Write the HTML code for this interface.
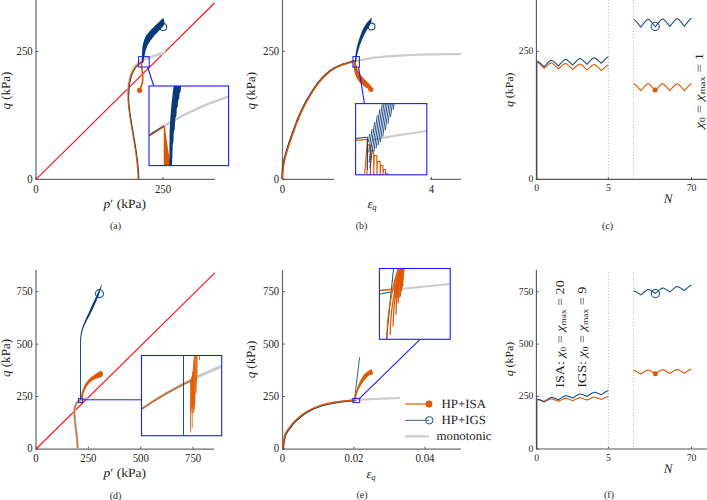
<!DOCTYPE html>
<html><head><meta charset="utf-8"><title>Figure</title>
<style>
html,body{margin:0;padding:0;background:#fff;}
svg{display:block;}
text{font-family:"Liberation Serif","DejaVu Serif",serif;fill:#222;text-rendering:geometricPrecision;}
</style></head>
<body>
<svg width="707" height="500" viewBox="0 0 707 500">
<defs>
<clipPath id="ca"><rect x="149" y="86" width="79.6" height="79.6"/></clipPath>
<clipPath id="cb"><rect x="355.6" y="103.6" width="71.2" height="71.2"/></clipPath>
<clipPath id="cd"><rect x="141.5" y="355.5" width="80.2" height="80.2"/></clipPath>
<clipPath id="ce"><rect x="379.4" y="268.5" width="70.8" height="70.8"/></clipPath>
</defs>
<rect width="707" height="500" fill="#fff"/>
<path d="M36 0V179.975" stroke="#6c6c6c" stroke-width="1.25" fill="none"/>
<path d="M36 179.35H215" stroke="#6c6c6c" stroke-width="1.25" fill="none"/>
<path d="M36 179.04999999999998v-2" stroke="#444444" stroke-width="0.9"/>
<text x="36" y="192.75" font-size="12" text-anchor="middle" textLength="5.37" lengthAdjust="spacingAndGlyphs">0</text>
<path d="M163 179.04999999999998v-2" stroke="#444444" stroke-width="0.9"/>
<text x="163" y="192.75" font-size="12" text-anchor="middle" textLength="16.11" lengthAdjust="spacingAndGlyphs">250</text>
<path d="M36.3 179.35h2" stroke="#444444" stroke-width="0.9"/>
<text x="32.7" y="182.75" font-size="12" text-anchor="end" textLength="5.37" lengthAdjust="spacingAndGlyphs">0</text>
<path d="M36.3 51.4h2" stroke="#444444" stroke-width="0.9"/>
<text x="32.7" y="54.8" font-size="12" text-anchor="end" textLength="16.11" lengthAdjust="spacingAndGlyphs">250</text>
<text x="9.7" y="90.6" font-size="12.5" text-anchor="middle" transform="rotate(-90 9.7 90.6)" textLength="38" lengthAdjust="spacingAndGlyphs"><tspan font-style="italic">q</tspan> (kPa)</text>
<text x="124.8" y="207.6" font-size="12.5" text-anchor="middle" textLength="42.4" lengthAdjust="spacingAndGlyphs"><tspan font-style="italic">p</tspan>′ (kPa)</text>
<text x="115.5" y="229" font-size="10" text-anchor="middle">(a)</text>
<path d="M36 179.3L214.5 3" stroke="#ff1414" stroke-width="1.1" fill="none"/>
<path d="M128.5 95C128 75 134 64 143 60C150 56.8 158 54.5 165.5 52.3" stroke="#d0d0d0" stroke-width="2.8" fill="none"/>
<path d="M137.8 179C137.5 150 128 120 127.6 98C127.4 78 133 66.5 141 62" stroke="#093a78" stroke-width="1.1" fill="none" transform="translate(1.0,0)"/>
<path d="M137.8 179C137.5 150 128 120 127.6 98C127.4 78 133 66.5 141 62" stroke="#de5700" stroke-width="1.1" fill="none" transform="translate(0.35,0)"/>
<path d="M141.3 62C141.4 69 143.2 75 142.7 80.6C142.3 84.6 141 87.4 139.6 89.4" stroke="#de5700" stroke-width="1.6" fill="none"/>
<circle cx="139.6" cy="90.3" r="2.6" fill="#de5700"/>
<circle cx="163.2" cy="27" r="3.5" fill="none" stroke="#1d4f8a" stroke-width="1.1"/>
<path d="M141.80 63.00L141.80 62.55L141.80 61.99L141.80 61.33L141.81 60.58L141.81 59.73L141.83 58.82L141.86 57.84L141.90 56.80L141.95 55.66L141.99 54.38L142.03 53.00L142.09 51.56L142.16 50.11L142.27 48.67L142.41 47.29L142.60 46.00L142.84 44.78L143.12 43.56L143.44 42.37L143.79 41.21L144.16 40.10L144.54 39.06L144.92 38.09L145.30 37.20L145.68 36.42L146.06 35.75L146.45 35.17L146.86 34.64L147.27 34.14L147.70 33.65L148.14 33.15L148.60 32.60L149.04 32.06L149.44 31.58L149.84 31.12L150.26 30.64L150.73 30.13L151.29 29.54L151.97 28.84L152.80 28.00L153.87 26.93L155.21 25.62L156.70 24.17L158.26 22.66L159.79 21.19L161.19 19.84L162.36 18.72L163.20 17.90L163.40 18.20L163.49 18.50L163.61 18.91L163.76 19.40L163.92 19.94L164.08 20.50L164.22 21.05L164.33 21.56L164.40 22.00L164.44 22.38L164.47 22.71L164.49 23.02L164.48 23.31L164.45 23.60L164.37 23.91L164.26 24.24L164.10 24.60L163.91 24.97L163.72 25.31L163.50 25.65L163.24 26.01L162.91 26.43L162.51 26.91L162.01 27.49L161.40 28.20L160.63 29.05L159.71 30.03L158.67 31.11L157.56 32.26L156.42 33.46L155.30 34.66L154.25 35.85L153.30 37.00L152.43 38.10L151.58 39.19L150.76 40.28L149.98 41.38L149.24 42.48L148.54 43.62L147.89 44.79L147.30 46.00L146.77 47.30L146.29 48.68L145.87 50.12L145.49 51.58L145.15 53.01L144.85 54.38L144.56 55.66L144.30 56.80L144.06 57.84L143.87 58.82L143.70 59.73L143.56 60.57L143.45 61.33L143.35 61.99L143.27 62.55L143.20 63.00Z" fill="#093a78"/>
<rect x="138.6" y="56.6" width="10.6" height="10.4" fill="none" stroke="#1c1cff" stroke-width="1"/>
<path d="M147.6 67L153.8 86" stroke="#1c1cff" stroke-width="1.1" fill="none"/>
<rect x="149" y="86" width="79.6" height="79.6" fill="#fff" stroke="none"/>
<g clip-path="url(#ca)">
<path d="M149 135.5C175 118 205 104 228.6 96.3" stroke="#cbcbcb" stroke-width="2.3" fill="none"/>
<path d="M149 135.7C154 132.3 159 129 164.2 126" stroke="#093a78" stroke-width="1.5" fill="none"/>
<path d="M149 136C154 132.6 159 129.3 164.2 126.4" stroke="#de5700" stroke-width="1.1" fill="none"/>
<path d="M163.7 126.2L165 126.6L166.4 138L168 149L170.8 166H163.7Z" fill="#de5700"/>
<path d="M169.4 166L169.5 136C169.9 120 171.6 100 173.8 85H181.2L180.6 92L179.6 93L179.2 99L178.2 100L177.7 107L176.8 108L176.4 116L175.4 118L174.6 130L173.8 132L173.4 142L172.8 144L172.4 154L172 166Z" fill="#093a78"/>
</g>
<rect x="149" y="86" width="79.6" height="79.6" fill="none" stroke="#1c1cff" stroke-width="1.1"/>
<path d="M282.5 0V179.975" stroke="#6c6c6c" stroke-width="1.25" fill="none"/>
<path d="M282.5 179.35H334M430.2 179.35H461" stroke="#6c6c6c" stroke-width="1.25" fill="none"/>
<path d="M282.5 179.04999999999998v-2" stroke="#444444" stroke-width="0.9"/>
<text x="282.5" y="192.75" font-size="12" text-anchor="middle" textLength="5.37" lengthAdjust="spacingAndGlyphs">0</text>
<path d="M431.5 179.04999999999998v-2" stroke="#444444" stroke-width="0.9"/>
<text x="431.5" y="192.75" font-size="12" text-anchor="middle" textLength="5.37" lengthAdjust="spacingAndGlyphs">4</text>
<path d="M282.8 179.35h2" stroke="#444444" stroke-width="0.9"/>
<text x="279.2" y="182.75" font-size="12" text-anchor="end" textLength="5.37" lengthAdjust="spacingAndGlyphs">0</text>
<path d="M282.8 51.4h2" stroke="#444444" stroke-width="0.9"/>
<text x="279.2" y="54.8" font-size="12" text-anchor="end" textLength="16.11" lengthAdjust="spacingAndGlyphs">250</text>
<text x="255.4" y="90.8" font-size="12.5" text-anchor="middle" transform="rotate(-90 255.4 90.8)" textLength="37.6" lengthAdjust="spacingAndGlyphs"><tspan font-style="italic">q</tspan> (kPa)</text>
<text x="372" y="207.5" font-size="12.5" text-anchor="middle"><tspan font-style="italic">ε</tspan><tspan font-style="italic" font-size="8.5" dy="2.5">q</tspan></text>
<text x="361.5" y="229" font-size="10" text-anchor="middle">(b)</text>
<path d="M352.00 61.60L352.64 61.49L353.51 61.35L354.54 61.17L355.67 60.98L356.87 60.78L358.06 60.58L359.19 60.38L360.20 60.20L361.11 60.03L361.96 59.87L362.78 59.71L363.58 59.54L364.39 59.38L365.21 59.22L366.08 59.06L367.00 58.90L367.92 58.74L368.81 58.58L369.69 58.42L370.62 58.26L371.62 58.10L372.74 57.94L374.02 57.77L375.50 57.60L377.15 57.42L378.93 57.24L380.84 57.05L382.89 56.86L385.06 56.66L387.37 56.47L389.82 56.28L392.40 56.10L395.18 55.91L398.17 55.72L401.33 55.53L404.61 55.34L407.96 55.15L411.32 54.98L414.65 54.83L417.90 54.70L421.14 54.59L424.46 54.50L427.80 54.43L431.13 54.38L434.40 54.33L437.57 54.28L440.58 54.24L443.40 54.20L446.12 54.16L448.81 54.12L451.42 54.09L453.89 54.07L456.17 54.05L458.18 54.03L459.88 54.01L461.20 54.00" stroke="#cbcbcb" stroke-width="2.2" fill="none"/>
<path d="M282.50 179.30L282.56 178.27L282.63 176.90L282.71 175.27L282.81 173.46L282.93 171.55L283.09 169.62L283.27 167.74L283.50 166.00L283.77 164.37L284.07 162.75L284.41 161.15L284.78 159.54L285.18 157.94L285.60 156.31L286.04 154.67L286.50 153.00L286.99 151.28L287.52 149.52L288.09 147.74L288.67 145.94L289.26 144.15L289.85 142.38L290.44 140.66L291.00 139.00L291.54 137.40L292.08 135.86L292.61 134.35L293.14 132.88L293.67 131.41L294.20 129.95L294.74 128.49L295.30 127.00L295.85 125.51L296.39 124.05L296.93 122.59L297.48 121.12L298.05 119.65L298.65 118.14L299.30 116.60L300.00 115.00L300.76 113.34L301.56 111.62L302.41 109.85L303.29 108.06L304.20 106.26L305.13 104.48L306.06 102.72L307.00 101.00L307.96 99.30L308.95 97.59L309.97 95.88L311.00 94.19L312.03 92.54L313.05 90.95L314.04 89.43L315.00 88.00L315.92 86.67L316.80 85.43L317.65 84.27L318.50 83.16L319.35 82.09L320.20 81.05L321.08 80.03L322.00 79.00L322.96 77.97L323.95 76.94L324.97 75.94L326.00 74.96L327.03 74.01L328.05 73.11L329.04 72.27L330.00 71.50L330.92 70.80L331.80 70.17L332.65 69.60L333.50 69.08L334.35 68.59L335.20 68.12L336.08 67.66L337.00 67.20L337.97 66.74L338.98 66.29L340.01 65.85L341.06 65.44L342.10 65.04L343.12 64.67L344.09 64.32L345.00 64.00L345.85 63.71L346.66 63.46L347.44 63.24L348.19 63.03L348.91 62.84L349.62 62.66L350.31 62.48L351.00 62.30L351.71 62.11L352.44 61.92L353.17 61.73L353.88 61.54L354.54 61.37L355.12 61.22L355.62 61.10L356.00 61.00" stroke="#093a78" stroke-width="1.6" fill="none" transform="translate(-0.5,-0.3)"/>
<path d="M282.50 179.30L282.56 178.27L282.63 176.90L282.71 175.27L282.81 173.46L282.93 171.55L283.09 169.62L283.27 167.74L283.50 166.00L283.77 164.37L284.07 162.75L284.41 161.15L284.78 159.54L285.18 157.94L285.60 156.31L286.04 154.67L286.50 153.00L286.99 151.28L287.52 149.52L288.09 147.74L288.67 145.94L289.26 144.15L289.85 142.38L290.44 140.66L291.00 139.00L291.54 137.40L292.08 135.86L292.61 134.35L293.14 132.88L293.67 131.41L294.20 129.95L294.74 128.49L295.30 127.00L295.85 125.51L296.39 124.05L296.93 122.59L297.48 121.12L298.05 119.65L298.65 118.14L299.30 116.60L300.00 115.00L300.76 113.34L301.56 111.62L302.41 109.85L303.29 108.06L304.20 106.26L305.13 104.48L306.06 102.72L307.00 101.00L307.96 99.30L308.95 97.59L309.97 95.88L311.00 94.19L312.03 92.54L313.05 90.95L314.04 89.43L315.00 88.00L315.92 86.67L316.80 85.43L317.65 84.27L318.50 83.16L319.35 82.09L320.20 81.05L321.08 80.03L322.00 79.00L322.96 77.97L323.95 76.94L324.97 75.94L326.00 74.96L327.03 74.01L328.05 73.11L329.04 72.27L330.00 71.50L330.92 70.80L331.80 70.17L332.65 69.60L333.50 69.08L334.35 68.59L335.20 68.12L336.08 67.66L337.00 67.20L337.97 66.74L338.98 66.29L340.01 65.85L341.06 65.44L342.10 65.04L343.12 64.67L344.09 64.32L345.00 64.00L345.85 63.71L346.66 63.46L347.44 63.24L348.19 63.03L348.91 62.84L349.62 62.66L350.31 62.48L351.00 62.30L351.71 62.11L352.44 61.92L353.17 61.73L353.88 61.54L354.54 61.37L355.12 61.22L355.62 61.10L356.00 61.00" stroke="#de5700" stroke-width="1.5" fill="none"/>
<path d="M353.90 61.56L353.89 61.98L353.86 62.53L353.82 63.20L353.79 63.95L353.77 64.76L353.76 65.61L353.77 66.45L353.82 67.27L353.89 68.05L353.97 68.84L354.07 69.65L354.19 70.48L354.34 71.31L354.51 72.16L354.72 73.01L354.97 73.85L355.25 74.68L355.57 75.52L355.91 76.36L356.29 77.19L356.69 78.00L357.11 78.80L357.56 79.56L358.03 80.31L358.55 81.03L359.10 81.71L359.66 82.34L360.22 82.92L360.77 83.46L361.30 83.96L361.80 84.41L362.29 84.85L362.81 85.29L363.34 85.72L363.87 86.11L364.38 86.48L364.87 86.81L365.35 87.13L365.80 87.42L366.22 87.71L366.66 88.01L367.13 88.31L367.59 88.60L368.04 88.89L368.46 89.15L368.84 89.39L369.15 89.59L369.40 89.74L371.80 87.06L371.62 86.84L371.39 86.54L371.12 86.19L370.81 85.80L370.47 85.38L370.12 84.94L369.75 84.51L369.38 84.09L368.99 83.67L368.59 83.25L368.18 82.84L367.77 82.42L367.36 82.01L366.95 81.60L366.54 81.18L366.11 80.75L365.63 80.28L365.12 79.81L364.62 79.35L364.13 78.90L363.66 78.46L363.21 78.01L362.78 77.56L362.37 77.09L361.95 76.57L361.51 75.99L361.06 75.38L360.63 74.75L360.20 74.10L359.78 73.45L359.39 72.79L359.03 72.15L358.69 71.52L358.37 70.86L358.06 70.19L357.77 69.50L357.50 68.80L357.24 68.10L357.00 67.41L356.78 66.73L356.58 66.05L356.40 65.32L356.24 64.55L356.10 63.80L355.97 63.07L355.87 62.42L355.77 61.86L355.70 61.44Z" fill="#de5700"/>
<circle cx="370.9" cy="89.5" r="2.5" fill="#de5700"/>
<circle cx="371.6" cy="26.5" r="3.4" fill="none" stroke="#1d4f8a" stroke-width="1.1"/>
<path d="M356.10 62.07L356.19 61.45L356.31 60.63L356.45 59.66L356.61 58.58L356.78 57.45L356.97 56.30L357.18 55.19L357.39 54.16L357.61 53.18L357.85 52.20L358.10 51.22L358.36 50.24L358.64 49.26L358.93 48.29L359.24 47.31L359.55 46.33L359.88 45.35L360.23 44.37L360.59 43.38L360.96 42.40L361.35 41.42L361.74 40.46L362.14 39.50L362.54 38.56L362.96 37.63L363.40 36.70L363.85 35.77L364.31 34.85L364.77 33.95L365.22 33.08L365.67 32.25L366.09 31.47L366.51 30.73L366.93 30.04L367.35 29.36L367.77 28.71L368.18 28.08L368.58 27.46L368.96 26.84L369.30 26.26L369.59 25.73L369.86 25.24L370.11 24.78L370.35 24.32L370.58 23.84L370.80 23.35L371.00 22.83L371.18 22.27L371.33 21.67L371.44 21.04L371.51 20.39L371.55 19.76L371.58 19.16L371.60 18.63L371.62 18.19L371.64 17.86L371.36 17.74L371.14 18.00L370.85 18.34L370.51 18.75L370.13 19.19L369.73 19.65L369.34 20.11L368.96 20.54L368.62 20.93L368.30 21.27L367.99 21.59L367.68 21.93L367.35 22.28L367.01 22.68L366.65 23.11L366.28 23.60L365.90 24.14L365.53 24.71L365.15 25.30L364.76 25.93L364.35 26.61L363.94 27.34L363.53 28.10L363.11 28.90L362.71 29.73L362.31 30.60L361.92 31.51L361.52 32.45L361.13 33.43L360.75 34.42L360.37 35.43L360.01 36.43L359.66 37.44L359.32 38.44L358.99 39.46L358.67 40.49L358.36 41.52L358.06 42.56L357.78 43.60L357.51 44.64L357.25 45.67L357.00 46.69L356.76 47.71L356.54 48.74L356.33 49.76L356.13 50.78L355.94 51.80L355.77 52.82L355.61 53.84L355.47 54.92L355.35 56.08L355.25 57.26L355.15 58.42L355.08 59.51L355.01 60.49L354.95 61.31L354.90 61.93Z" fill="#093a78"/>
<rect x="352.9" y="56.6" width="6.5" height="10.5" fill="none" stroke="#1c1cff" stroke-width="1"/>
<path d="M358.6 67L364.4 103.5" stroke="#1c1cff" stroke-width="1.1" fill="none"/>
<rect x="355.6" y="103.6" width="71.2" height="71.2" fill="#fff"/>
<g clip-path="url(#cb)">
<path d="M372 140C390 136 410 133.5 427 131" stroke="#cbcbcb" stroke-width="2" fill="none"/>
<path d="M355.6 140.4L367.4 139.4L364.6 175M367.00 175L367.70 144.7L370.30 145.1L370.50 175M370.30 175L371.00 150.5L373.60 150.9L373.80 175M373.60 175L374.30 155.4L376.80 155.8L377.00 175M376.80 175L377.50 161.1L380.10 161.5L380.30 175M380.10 175L380.80 165.2L382.90 165.6L383.10 175M382.90 175L383.60 169.3L385.40 169.70000000000002L385.60 175M385.40 175L386.10 173.4L387.50 173.8L387.70 175" stroke="#de5700" stroke-width="1.1" fill="none" stroke-linejoin="miter"/>
<path d="M355.6 138.4L367.6 137.2" stroke="#093a78" stroke-width="1" fill="none"/>
<path d="M367.6 137.2L367.3 170M368.48 142.25L369.64 134.00M368.76 152.25L372.02 129.00M369.01 162.50L374.64 122.25M369.92 168.00L377.31 115.25M373.94 151.25L379.82 109.25M376.04 148.25L382.24 104.00M378.14 145.25L384.76 98.00M380.24 142.25L386.44 98.00M382.69 136.75L388.12 98.00M385.28 130.25L389.80 98.00M387.88 123.75L391.48 98.00M390.50 117.00L393.16 98.00M393.19 109.75L394.84 98.00M395.85 102.75L396.52 98.00" stroke="#093a78" stroke-width="0.88" fill="none"/>
</g>
<rect x="355.6" y="103.6" width="71.2" height="71.2" fill="none" stroke="#1c1cff" stroke-width="1.1"/>
<path d="M536.4 0V179.9" stroke="#555" stroke-width="1.1" fill="none"/>
<path d="M536.4 179.35H707" stroke="#555" stroke-width="1.1" fill="none"/>
<path d="M536.6 179.04999999999998v-2" stroke="#444444" stroke-width="0.9"/>
<text x="536.6" y="191.35" font-size="10.3" text-anchor="middle" textLength="4.83" lengthAdjust="spacingAndGlyphs">0</text>
<path d="M608.4 179.04999999999998v-2" stroke="#444444" stroke-width="0.9"/>
<text x="608.4" y="191.35" font-size="10.3" text-anchor="middle" textLength="4.83" lengthAdjust="spacingAndGlyphs">5</text>
<path d="M691.5 179.04999999999998v-2" stroke="#444444" stroke-width="0.9"/>
<text x="691.5" y="191.35" font-size="10.3" text-anchor="middle" textLength="9.66" lengthAdjust="spacingAndGlyphs">70</text>
<path d="M536.6999999999999 179.35h2" stroke="#444444" stroke-width="0.9"/>
<text x="533.3" y="182.15" font-size="10.3" text-anchor="end" textLength="4.83" lengthAdjust="spacingAndGlyphs">0</text>
<path d="M536.6999999999999 51.4h2" stroke="#444444" stroke-width="0.9"/>
<text x="533.3" y="54.199999999999996" font-size="10.3" text-anchor="end" textLength="14.49" lengthAdjust="spacingAndGlyphs">250</text>
<path d="M608.4 0V179.35" stroke="#999" stroke-width="0.8" stroke-dasharray="0.9 2.2" fill="none"/>
<path d="M633.5 0V179.35" stroke="#999" stroke-width="0.8" stroke-dasharray="0.9 2.2" fill="none"/>
<text x="512.8" y="89.8" font-size="11" text-anchor="middle" transform="rotate(-90 512.8 89.8)" textLength="34.5" lengthAdjust="spacingAndGlyphs"><tspan font-style="italic">q</tspan> (kPa)</text>
<text x="668" y="203.2" font-size="13" text-anchor="middle"><tspan font-style="italic">N</tspan></text>
<text x="607.5" y="229" font-size="10" text-anchor="middle">(c)</text>
<path d="M536.9 179V62" stroke="#de5700" stroke-width="1" fill="none"/>
<path d="M536.6 179V61.4" stroke="#1d4f8a" stroke-width="1" fill="none"/>
<path d="M537.00 62.40 L537.60 62.53 L538.19 62.84 L538.78 63.26 L539.38 63.74 L539.98 64.27 L540.57 64.81 L541.16 65.37 L541.76 65.94 L542.36 66.52 L542.95 67.10 L543.54 67.69 L544.14 68.28 L544.74 67.74 L545.33 67.20 L545.92 66.66 L546.52 66.13 L547.12 65.61 L547.71 65.09 L548.30 64.59 L548.90 64.12 L549.50 63.68 L550.09 63.30 L550.68 63.04 L551.28 62.96 L551.88 63.09 L552.47 63.40 L553.06 63.82 L553.66 64.30 L554.25 64.83 L554.85 65.37 L555.45 65.93 L556.04 66.50 L556.63 67.08 L557.23 67.66 L557.83 68.25 L558.42 68.84 L559.01 68.30 L559.61 67.76 L560.21 67.22 L560.80 66.69 L561.39 66.17 L561.99 65.65 L562.59 65.15 L563.18 64.68 L563.77 64.24 L564.37 63.86 L564.97 63.60 L565.56 63.52 L566.15 63.65 L566.75 63.96 L567.35 64.38 L567.94 64.86 L568.53 65.39 L569.13 65.93 L569.73 66.49 L570.32 67.06 L570.91 67.64 L571.51 68.22 L572.11 68.81 L572.70 69.40 L573.29 68.86 L573.89 68.32 L574.49 67.78 L575.08 67.25 L575.67 66.73 L576.27 66.21 L576.87 65.71 L577.46 65.24 L578.05 64.80 L578.65 64.42 L579.25 64.16 L579.84 64.08 L580.43 64.21 L581.03 64.52 L581.62 64.94 L582.22 65.42 L582.81 65.95 L583.41 66.49 L584.00 67.05 L584.60 67.62 L585.19 68.20 L585.79 68.78 L586.38 69.37 L586.98 69.96 L587.58 69.42 L588.17 68.88 L588.76 68.34 L589.36 67.81 L589.95 67.29 L590.55 66.77 L591.14 66.27 L591.74 65.80 L592.34 65.36 L592.93 64.98 L593.52 64.72 L594.12 64.64 L594.72 64.77 L595.31 65.08 L595.90 65.50 L596.50 65.98 L597.10 66.51 L597.69 67.05 L598.28 67.61 L598.88 68.18 L599.48 68.76 L600.07 69.34 L600.66 69.93 L601.26 70.52 L601.86 69.98 L602.45 69.44 L603.04 68.90 L603.64 68.37 L604.24 67.85 L604.83 67.33 L605.42 66.83 L606.02 66.36 L606.62 65.92 L607.21 65.54 L607.80 65.28 L608.40 65.20" stroke="#de5700" stroke-width="1.1" fill="none"/>
<path d="M537.00 61.20 L537.60 61.28 L538.19 61.55 L538.78 61.94 L539.38 62.40 L539.98 62.90 L540.57 63.42 L541.16 63.96 L541.76 64.51 L542.36 65.07 L542.95 65.63 L543.54 66.20 L544.14 66.77 L544.74 66.13 L545.33 65.49 L545.92 64.85 L546.52 64.22 L547.12 63.60 L547.71 62.99 L548.30 62.39 L548.90 61.82 L549.50 61.29 L550.09 60.83 L550.68 60.49 L551.28 60.34 L551.88 60.42 L552.47 60.69 L553.06 61.08 L553.66 61.54 L554.25 62.04 L554.85 62.56 L555.45 63.10 L556.04 63.65 L556.63 64.21 L557.23 64.77 L557.83 65.34 L558.42 65.91 L559.01 65.27 L559.61 64.63 L560.21 63.99 L560.80 63.36 L561.39 62.74 L561.99 62.13 L562.59 61.53 L563.18 60.96 L563.77 60.43 L564.37 59.97 L564.97 59.63 L565.56 59.48 L566.15 59.56 L566.75 59.83 L567.35 60.22 L567.94 60.68 L568.53 61.18 L569.13 61.70 L569.73 62.24 L570.32 62.79 L570.91 63.35 L571.51 63.91 L572.11 64.48 L572.70 65.05 L573.29 64.41 L573.89 63.77 L574.49 63.13 L575.08 62.50 L575.67 61.88 L576.27 61.27 L576.87 60.67 L577.46 60.10 L578.05 59.57 L578.65 59.11 L579.25 58.77 L579.84 58.62 L580.43 58.70 L581.03 58.97 L581.62 59.36 L582.22 59.82 L582.81 60.32 L583.41 60.84 L584.00 61.38 L584.60 61.93 L585.19 62.49 L585.79 63.05 L586.38 63.62 L586.98 64.19 L587.58 63.55 L588.17 62.91 L588.76 62.27 L589.36 61.64 L589.95 61.02 L590.55 60.41 L591.14 59.81 L591.74 59.24 L592.34 58.71 L592.93 58.25 L593.52 57.91 L594.12 57.76 L594.72 57.84 L595.31 58.11 L595.90 58.50 L596.50 58.96 L597.10 59.46 L597.69 59.98 L598.28 60.52 L598.88 61.07 L599.48 61.63 L600.07 62.19 L600.66 62.76 L601.26 63.33 L601.86 62.69 L602.45 62.05 L603.04 61.41 L603.64 60.78 L604.24 60.16 L604.83 59.55 L605.42 58.95 L606.02 58.38 L606.62 57.85 L607.21 57.39 L607.80 57.05 L608.40 56.90" stroke="#1d4f8a" stroke-width="1.1" fill="none"/>
<path d="M633.60 19.60 L634.20 19.73 L634.81 20.10 L635.41 20.63 L636.02 21.25 L636.62 21.91 L637.23 22.61 L637.83 23.33 L638.43 24.06 L639.04 24.80 L639.64 25.54 L640.25 26.29 L640.85 27.05 L641.45 26.27 L642.06 25.49 L642.66 24.72 L643.27 23.96 L643.87 23.20 L644.48 22.46 L645.08 21.74 L645.68 21.05 L646.29 20.41 L646.89 19.85 L647.50 19.46 L648.10 19.30 L648.70 19.43 L649.31 19.80 L649.91 20.33 L650.52 20.95 L651.12 21.61 L651.73 22.31 L652.33 23.03 L652.93 23.76 L653.54 24.50 L654.14 25.24 L654.75 25.99 L655.35 26.75 L655.95 25.97 L656.56 25.19 L657.16 24.42 L657.77 23.66 L658.37 22.90 L658.98 22.16 L659.58 21.44 L660.18 20.75 L660.79 20.11 L661.39 19.55 L662.00 19.16 L662.60 19.00 L663.20 19.13 L663.81 19.50 L664.41 20.03 L665.02 20.65 L665.62 21.31 L666.23 22.01 L666.83 22.73 L667.43 23.46 L668.04 24.20 L668.64 24.94 L669.25 25.69 L669.85 26.45 L670.45 25.67 L671.06 24.89 L671.66 24.12 L672.27 23.36 L672.87 22.60 L673.48 21.86 L674.08 21.14 L674.68 20.45 L675.29 19.81 L675.89 19.25 L676.50 18.86 L677.10 18.70 L677.70 18.83 L678.31 19.20 L678.91 19.73 L679.52 20.35 L680.12 21.01 L680.73 21.71 L681.33 22.43 L681.93 23.16 L682.54 23.90 L683.14 24.64 L683.75 25.39 L684.35 26.15 L684.95 25.37 L685.56 24.59 L686.16 23.82 L686.77 23.06 L687.37 22.30 L687.98 21.56 L688.58 20.84 L689.18 20.15 L689.79 19.51 L690.39 18.95 L691.00 18.56 L691.60 18.40" stroke="#1d4f8a" stroke-width="1.1" fill="none"/>
<path d="M633.60 83.80 L634.20 83.93 L634.81 84.27 L635.41 84.76 L636.02 85.32 L636.62 85.92 L637.23 86.56 L637.83 87.21 L638.43 87.88 L639.04 88.55 L639.64 89.23 L640.25 89.91 L640.85 90.60 L641.45 89.91 L642.06 89.23 L642.66 88.55 L643.27 87.88 L643.87 87.21 L644.48 86.56 L645.08 85.92 L645.68 85.32 L646.29 84.76 L646.89 84.27 L647.50 83.93 L648.10 83.80 L648.70 83.93 L649.31 84.27 L649.91 84.76 L650.52 85.32 L651.12 85.92 L651.73 86.56 L652.33 87.21 L652.93 87.88 L653.54 88.55 L654.14 89.23 L654.75 89.91 L655.35 90.60 L655.95 89.91 L656.56 89.23 L657.16 88.55 L657.77 87.88 L658.37 87.21 L658.98 86.56 L659.58 85.92 L660.18 85.32 L660.79 84.76 L661.39 84.27 L662.00 83.93 L662.60 83.80 L663.20 83.93 L663.81 84.27 L664.41 84.76 L665.02 85.32 L665.62 85.92 L666.23 86.56 L666.83 87.21 L667.43 87.88 L668.04 88.55 L668.64 89.23 L669.25 89.91 L669.85 90.60 L670.45 89.91 L671.06 89.23 L671.66 88.55 L672.27 87.88 L672.87 87.21 L673.48 86.56 L674.08 85.92 L674.68 85.32 L675.29 84.76 L675.89 84.27 L676.50 83.93 L677.10 83.80 L677.70 83.93 L678.31 84.27 L678.91 84.76 L679.52 85.32 L680.12 85.92 L680.73 86.56 L681.33 87.21 L681.93 87.88 L682.54 88.55 L683.14 89.23 L683.75 89.91 L684.35 90.60 L684.95 89.91 L685.56 89.23 L686.16 88.55 L686.77 87.88 L687.37 87.21 L687.98 86.56 L688.58 85.92 L689.18 85.32 L689.79 84.76 L690.39 84.27 L691.00 83.93 L691.60 83.80" stroke="#de5700" stroke-width="1.1" fill="none"/>
<circle cx="655.2" cy="26.4" r="4.1" fill="none" stroke="#1d4f8a" stroke-width="1.05"/>
<circle cx="655" cy="90" r="2.5" fill="#de5700"/>
<text x="703.2" y="90.8" font-size="11.5" text-anchor="middle" transform="rotate(-90 703.2 90.8)" textLength="76" lengthAdjust="spacingAndGlyphs"><tspan font-style="italic">χ</tspan><tspan font-size="8" dy="2">0</tspan><tspan dy="-2"> = </tspan><tspan font-style="italic">χ</tspan><tspan font-size="8" dy="2">max</tspan><tspan dy="-2"> = 1</tspan></text>
<path d="M36 270V449.625" stroke="#6c6c6c" stroke-width="1.25" fill="none"/>
<path d="M36 449H214" stroke="#6c6c6c" stroke-width="1.25" fill="none"/>
<path d="M36 448.7v-2" stroke="#444444" stroke-width="0.9"/>
<text x="36" y="462.4" font-size="12" text-anchor="middle" textLength="5.37" lengthAdjust="spacingAndGlyphs">0</text>
<path d="M88.4 448.7v-2" stroke="#444444" stroke-width="0.9"/>
<text x="88.4" y="462.4" font-size="12" text-anchor="middle" textLength="16.11" lengthAdjust="spacingAndGlyphs">250</text>
<path d="M140.8 448.7v-2" stroke="#444444" stroke-width="0.9"/>
<text x="140.8" y="462.4" font-size="12" text-anchor="middle" textLength="16.11" lengthAdjust="spacingAndGlyphs">500</text>
<path d="M193.1 448.7v-2" stroke="#444444" stroke-width="0.9"/>
<text x="193.1" y="462.4" font-size="12" text-anchor="middle" textLength="16.11" lengthAdjust="spacingAndGlyphs">750</text>
<path d="M36.3 449h2" stroke="#444444" stroke-width="0.9"/>
<text x="32.7" y="452.4" font-size="12" text-anchor="end" textLength="5.37" lengthAdjust="spacingAndGlyphs">0</text>
<path d="M36.3 396.5h2" stroke="#444444" stroke-width="0.9"/>
<text x="32.7" y="399.9" font-size="12" text-anchor="end" textLength="16.11" lengthAdjust="spacingAndGlyphs">250</text>
<path d="M36.3 344.1h2" stroke="#444444" stroke-width="0.9"/>
<text x="32.7" y="347.5" font-size="12" text-anchor="end" textLength="16.11" lengthAdjust="spacingAndGlyphs">500</text>
<path d="M36.3 291.7h2" stroke="#444444" stroke-width="0.9"/>
<text x="32.7" y="295.09999999999997" font-size="12" text-anchor="end" textLength="16.11" lengthAdjust="spacingAndGlyphs">750</text>
<text x="9.7" y="358" font-size="12.5" text-anchor="middle" transform="rotate(-90 9.7 358)" textLength="38" lengthAdjust="spacingAndGlyphs"><tspan font-style="italic">q</tspan> (kPa)</text>
<text x="124.8" y="477.1" font-size="12.5" text-anchor="middle" textLength="42.4" lengthAdjust="spacingAndGlyphs"><tspan font-style="italic">p</tspan>′ (kPa)</text>
<text x="115.5" y="499" font-size="10" text-anchor="middle">(d)</text>
<path d="M36 449L214.8 272.8" stroke="#ff1414" stroke-width="1.1" fill="none"/>
<path d="M77.6 448.8C77.6 436 74.3 422 74.4 412C74.5 404 77 401 81 399.7C84 398.9 86 398.4 87.6 397.8" stroke="#bdbdbd" stroke-width="2.5" fill="none"/>
<path d="M77.6 448.8C77.6 436 74.3 422 74.4 412C74.5 404 77 401 80.5 400" stroke="#de5700" stroke-width="1.3" fill="none" opacity="0.7"/>
<path d="M80.5 400V350" stroke="#093a78" stroke-width="0.9" fill="none"/>
<path d="M80.95 352.00L80.95 351.46L80.94 350.76L80.93 349.92L80.93 348.99L80.92 347.99L80.93 346.97L80.93 345.97L80.95 345.01L80.97 344.07L80.98 343.12L81.00 342.15L81.02 341.17L81.05 340.19L81.11 339.21L81.19 338.23L81.30 337.26L81.43 336.28L81.58 335.29L81.76 334.31L81.95 333.32L82.17 332.33L82.41 331.34L82.68 330.35L82.97 329.37L83.31 328.40L83.67 327.42L84.07 326.44L84.49 325.46L84.93 324.48L85.39 323.50L85.86 322.52L86.33 321.53L86.81 320.56L87.31 319.60L87.82 318.64L88.35 317.67L88.89 316.69L89.43 315.69L89.97 314.67L90.50 313.63L91.02 312.57L91.54 311.49L92.06 310.39L92.58 309.29L93.09 308.18L93.60 307.07L94.10 305.96L94.60 304.86L95.10 303.77L95.59 302.70L96.08 301.63L96.57 300.55L97.06 299.46L97.54 298.33L98.01 297.17L98.48 295.96L98.95 294.64L99.45 293.16L99.94 291.62L100.43 290.07L100.88 288.59L101.28 287.26L101.62 286.14L101.88 285.31L101.32 285.09L100.96 285.89L100.48 286.96L99.91 288.23L99.27 289.63L98.61 291.10L97.94 292.58L97.30 293.98L96.72 295.24L96.19 296.38L95.66 297.49L95.14 298.58L94.63 299.65L94.12 300.71L93.61 301.78L93.10 302.85L92.60 303.94L92.10 305.05L91.60 306.17L91.11 307.29L90.62 308.41L90.14 309.52L89.66 310.62L89.18 311.71L88.70 312.77L88.22 313.80L87.73 314.82L87.24 315.83L86.75 316.83L86.26 317.83L85.78 318.84L85.32 319.85L84.87 320.87L84.44 321.88L84.02 322.90L83.61 323.92L83.21 324.94L82.83 325.96L82.46 326.98L82.13 328.00L81.83 329.03L81.55 330.05L81.31 331.07L81.09 332.09L80.89 333.11L80.71 334.12L80.56 335.13L80.42 336.14L80.30 337.14L80.21 338.15L80.14 339.15L80.10 340.16L80.08 341.15L80.07 342.14L80.07 343.11L80.06 344.06L80.05 344.99L80.04 345.96L80.03 346.97L80.03 347.99L80.03 348.99L80.04 349.93L80.04 350.76L80.05 351.47L80.05 352.00Z" fill="#093a78"/>
<circle cx="99.5" cy="293.6" r="4" fill="none" stroke="#1d4f8a" stroke-width="1.1"/>
<path d="M80.6 399C81.4 391 84 384.5 88.6 379.5C92.6 375.4 96.4 373.6 99.6 371.4C101 370.6 102.4 371.4 102.8 373C103.3 375 102.4 376.8 100.6 377.2C96 378.4 92 380 88.8 383.6C85.4 387.6 83.4 392.4 82.4 399Z" fill="#de5700"/>
<rect x="78.6" y="398.4" width="4" height="4.2" fill="none" stroke="#1c1cff" stroke-width="1"/>
<path d="M82.6 399.8H141.5" stroke="#1c1cff" stroke-width="1" fill="none"/>
<rect x="141.5" y="355.5" width="80.2" height="80.2" fill="#fff"/>
<g clip-path="url(#cd)">
<path d="M141.5 408.8C165 393 195 377 221.7 366.2" stroke="#cbcbcb" stroke-width="2.9" fill="none"/>
<path d="M141.5 408.9C158 397.5 175 388 193 379.5" stroke="#093a78" stroke-width="1.2" fill="none" opacity="0.35"/>
<path d="M141.5 409.1C158 397.7 175 388.2 193 379.7" stroke="#de5700" stroke-width="1.1" fill="none"/>
<path d="M183.5 355.5V435.7" stroke="#093a78" stroke-width="0.9" fill="none"/>
<path d="M190.3 380.5L192.4 374L194 355.5H197.6V374L196.7 385L196.5 392.5L195.5 394L195.3 404L194.5 410L193.6 411L193.2 404L192.6 414L191.8 408L191.2 416L190.4 408Z" fill="#de5700" opacity="0.86"/>
<path d="M199.5 355.5V360.4M190.7 380L190.5 432.5M192.4 372L192.2 428M193.9 360L193.7 413" stroke="#de5700" stroke-width="0.8" fill="none"/>
</g>
<rect x="141.5" y="355.5" width="80.2" height="80.2" fill="none" stroke="#1c1cff" stroke-width="1.1"/>
<path d="M282.5 270V449.625" stroke="#6c6c6c" stroke-width="1.25" fill="none"/>
<path d="M282.5 449H461" stroke="#6c6c6c" stroke-width="1.25" fill="none"/>
<path d="M282.5 448.7v-2" stroke="#444444" stroke-width="0.9"/>
<text x="282.5" y="462.4" font-size="12" text-anchor="middle" textLength="5.37" lengthAdjust="spacingAndGlyphs">0</text>
<path d="M354 448.7v-2" stroke="#444444" stroke-width="0.9"/>
<text x="354" y="462.4" font-size="12" text-anchor="middle" textLength="19.12" lengthAdjust="spacingAndGlyphs">0.02</text>
<path d="M425 448.7v-2" stroke="#444444" stroke-width="0.9"/>
<text x="425" y="462.4" font-size="12" text-anchor="middle" textLength="19.12" lengthAdjust="spacingAndGlyphs">0.04</text>
<path d="M282.8 449h2" stroke="#444444" stroke-width="0.9"/>
<text x="279.2" y="452.4" font-size="12" text-anchor="end" textLength="5.37" lengthAdjust="spacingAndGlyphs">0</text>
<path d="M282.8 396.5h2" stroke="#444444" stroke-width="0.9"/>
<text x="279.2" y="399.9" font-size="12" text-anchor="end" textLength="16.11" lengthAdjust="spacingAndGlyphs">250</text>
<path d="M282.8 344.1h2" stroke="#444444" stroke-width="0.9"/>
<text x="279.2" y="347.5" font-size="12" text-anchor="end" textLength="16.11" lengthAdjust="spacingAndGlyphs">500</text>
<path d="M282.8 291.7h2" stroke="#444444" stroke-width="0.9"/>
<text x="279.2" y="295.09999999999997" font-size="12" text-anchor="end" textLength="16.11" lengthAdjust="spacingAndGlyphs">750</text>
<text x="255.4" y="359.5" font-size="12.5" text-anchor="middle" transform="rotate(-90 255.4 359.5)" textLength="37.6" lengthAdjust="spacingAndGlyphs"><tspan font-style="italic">q</tspan> (kPa)</text>
<text x="371" y="477.5" font-size="12.5" text-anchor="middle"><tspan font-style="italic">ε</tspan><tspan font-style="italic" font-size="8.5" dy="2.5">q</tspan></text>
<text x="362" y="498.4" font-size="10" text-anchor="middle">(e)</text>
<path d="M350 400.2C365 399.2 385 398.6 400 398" stroke="#cbcbcb" stroke-width="2.2" fill="none"/>
<path d="M282.60 449.00L282.65 448.60L282.71 448.07L282.79 447.43L282.87 446.72L282.96 445.98L283.04 445.26L283.13 444.59L283.20 444.00L283.26 443.50L283.32 443.06L283.37 442.66L283.42 442.27L283.47 441.88L283.54 441.47L283.61 441.01L283.70 440.50L283.80 439.91L283.92 439.26L284.04 438.57L284.17 437.86L284.31 437.15L284.46 436.45L284.62 435.80L284.80 435.20L284.99 434.66L285.18 434.16L285.39 433.69L285.61 433.24L285.84 432.80L286.08 432.37L286.33 431.94L286.60 431.50L286.87 431.07L287.14 430.67L287.42 430.29L287.71 429.90L288.03 429.49L288.38 429.05L288.76 428.56L289.20 428.00L289.67 427.37L290.17 426.68L290.70 425.94L291.26 425.17L291.87 424.37L292.52 423.55L293.23 422.72L294.00 421.90L294.85 421.05L295.78 420.17L296.77 419.25L297.80 418.33L298.86 417.42L299.93 416.53L300.98 415.69L302.00 414.90L303.00 414.17L304.00 413.47L305.00 412.81L306.00 412.18L307.00 411.58L308.00 411.00L309.00 410.44L310.00 409.90L311.00 409.38L312.00 408.89L313.00 408.43L314.00 407.99L315.00 407.57L316.00 407.16L317.00 406.77L318.00 406.40L319.00 406.04L320.00 405.70L321.00 405.38L322.00 405.08L323.00 404.79L324.00 404.52L325.00 404.25L326.00 404.00L327.00 403.76L328.00 403.53L329.00 403.32L330.00 403.12L331.00 402.94L332.00 402.75L333.00 402.58L334.00 402.40L335.00 402.23L336.00 402.06L337.00 401.90L338.00 401.75L339.00 401.60L340.00 401.46L341.00 401.33L342.00 401.20L343.02 401.08L344.07 400.96L345.13 400.85L346.19 400.74L347.22 400.65L348.21 400.56L349.14 400.47L350.00 400.40L350.80 400.34L351.58 400.28L352.31 400.24L353.00 400.20L353.62 400.17L354.17 400.14L354.63 400.12L355.00 400.10" stroke="#093a78" stroke-width="1.3" fill="none" transform="translate(0.6,0.6)"/>
<path d="M282.60 449.00L282.65 448.60L282.71 448.07L282.79 447.43L282.87 446.72L282.96 445.98L283.04 445.26L283.13 444.59L283.20 444.00L283.26 443.50L283.32 443.06L283.37 442.66L283.42 442.27L283.47 441.88L283.54 441.47L283.61 441.01L283.70 440.50L283.80 439.91L283.92 439.26L284.04 438.57L284.17 437.86L284.31 437.15L284.46 436.45L284.62 435.80L284.80 435.20L284.99 434.66L285.18 434.16L285.39 433.69L285.61 433.24L285.84 432.80L286.08 432.37L286.33 431.94L286.60 431.50L286.87 431.07L287.14 430.67L287.42 430.29L287.71 429.90L288.03 429.49L288.38 429.05L288.76 428.56L289.20 428.00L289.67 427.37L290.17 426.68L290.70 425.94L291.26 425.17L291.87 424.37L292.52 423.55L293.23 422.72L294.00 421.90L294.85 421.05L295.78 420.17L296.77 419.25L297.80 418.33L298.86 417.42L299.93 416.53L300.98 415.69L302.00 414.90L303.00 414.17L304.00 413.47L305.00 412.81L306.00 412.18L307.00 411.58L308.00 411.00L309.00 410.44L310.00 409.90L311.00 409.38L312.00 408.89L313.00 408.43L314.00 407.99L315.00 407.57L316.00 407.16L317.00 406.77L318.00 406.40L319.00 406.04L320.00 405.70L321.00 405.38L322.00 405.08L323.00 404.79L324.00 404.52L325.00 404.25L326.00 404.00L327.00 403.76L328.00 403.53L329.00 403.32L330.00 403.12L331.00 402.94L332.00 402.75L333.00 402.58L334.00 402.40L335.00 402.23L336.00 402.06L337.00 401.90L338.00 401.75L339.00 401.60L340.00 401.46L341.00 401.33L342.00 401.20L343.02 401.08L344.07 400.96L345.13 400.85L346.19 400.74L347.22 400.65L348.21 400.56L349.14 400.47L350.00 400.40L350.80 400.34L351.58 400.28L352.31 400.24L353.00 400.20L353.62 400.17L354.17 400.14L354.63 400.12L355.00 400.10" stroke="#de5700" stroke-width="1.5" fill="none"/>
<path d="M354.6 399L359.6 357.2" stroke="#093a78" stroke-width="0.8" fill="none"/>
<path d="M355.59 399.52L355.70 399.06L355.84 398.45L356.01 397.73L356.20 396.93L356.40 396.09L356.62 395.25L356.84 394.45L357.07 393.72L357.30 393.04L357.52 392.38L357.76 391.73L358.01 391.08L358.27 390.43L358.56 389.78L358.87 389.10L359.22 388.40L359.60 387.67L360.01 386.90L360.44 386.13L360.90 385.34L361.37 384.56L361.84 383.80L362.32 383.06L362.79 382.36L363.27 381.68L363.77 381.00L364.29 380.33L364.80 379.68L365.32 379.06L365.82 378.47L366.30 377.92L366.75 377.43L367.16 377.01L367.57 376.63L367.97 376.28L368.37 375.95L368.75 375.64L369.13 375.34L369.49 375.05L369.82 374.79L370.07 374.57L370.29 374.38L370.50 374.21L370.69 374.04L370.88 373.89L371.07 373.75L371.26 373.61L371.42 373.49L369.78 370.51L369.65 370.55L369.48 370.60L369.23 370.68L368.92 370.78L368.57 370.92L368.19 371.11L367.78 371.34L367.38 371.61L367.01 371.89L366.63 372.19L366.21 372.54L365.76 372.93L365.29 373.36L364.81 373.85L364.33 374.39L363.85 374.97L363.39 375.59L362.92 376.25L362.45 376.95L361.98 377.69L361.52 378.46L361.07 379.24L360.63 380.04L360.21 380.84L359.81 381.65L359.42 382.50L359.04 383.37L358.68 384.25L358.33 385.12L358.00 385.98L357.68 386.81L357.38 387.60L357.10 388.36L356.84 389.08L356.59 389.79L356.35 390.48L356.13 391.17L355.92 391.86L355.72 392.56L355.53 393.28L355.35 394.07L355.17 394.92L355.00 395.79L354.85 396.65L354.71 397.47L354.59 398.21L354.49 398.82L354.41 399.28Z" fill="#de5700"/>
<circle cx="370.9" cy="373" r="2.1" fill="#de5700"/>
<path d="M368.6 371.4L371.6 368.8L372.6 372.4Z" fill="#de5700"/>
<rect x="352.9" y="398.4" width="6.8" height="4.2" fill="none" stroke="#1c1cff" stroke-width="1"/>
<path d="M359.6 398.4L419.8 339.6" stroke="#1c1cff" stroke-width="1.1" fill="none"/>
<rect x="379.4" y="268.5" width="70.8" height="70.8" fill="#fff"/>
<g clip-path="url(#ce)">
<path d="M395 289.4L450.2 284" stroke="#cbcbcb" stroke-width="2" fill="none"/>
<path d="M379.4 294.2L391.2 291.8L393.5 268.4M391.2 291.8L386.4 339.4" stroke="#093a78" stroke-width="0.9" fill="none"/>
<path d="M379.4 290.5L392 289.3" stroke="#de5700" stroke-width="1.6" fill="none"/>
<path d="M392.6 287L395 278L398.2 268.5H404.8L403.6 279L402.6 286.5L401.5 291L400.4 296L398.6 300L397 296L395.4 300L394.2 294Z" fill="#de5700" opacity="0.75"/>
<path d="M386.90 339.60L387.05 333.13L387.38 326.67L387.88 320.20L388.56 313.73L389.42 307.27L390.45 300.80L391.66 294.33L393.04 287.87L394.60 281.40L396.33 274.93L398.24 268.47L400.32 262.00M390.20 335.00L390.34 328.92L390.63 322.83L391.08 316.75L391.69 310.67L392.45 304.58L393.36 298.50L394.43 292.42L395.66 286.33L397.04 280.25L398.58 274.17L400.27 268.08L402.12 262.00M393.10 326.40L393.21 321.03L393.45 315.67L393.81 310.30L394.28 304.93L394.88 299.57L395.60 294.20L396.44 288.83L397.40 283.47L398.48 278.10L399.68 272.73L401.01 267.37L402.45 262.00M396.00 314.80L396.08 310.40L396.25 306.00L396.50 301.60L396.83 297.20L397.24 292.80L397.73 288.40L398.30 284.00L398.95 279.60L399.69 275.20L400.51 270.80L401.40 266.40L402.38 262.00M398.20 303.30L398.26 299.86L398.37 296.42L398.53 292.98L398.74 289.53L398.99 286.09L399.30 282.65L399.66 279.21L400.07 275.77L400.52 272.32L401.03 268.88L401.59 265.44L402.19 262.00M400.20 296.80L400.25 293.90L400.33 291.00L400.45 288.10L400.60 285.20L400.79 282.30L401.01 279.40L401.27 276.50L401.56 273.60L401.89 270.70L402.26 267.80L402.66 264.90L403.09 262.00M401.50 291.00L401.54 288.58L401.60 286.17L401.68 283.75L401.79 281.33L401.93 278.92L402.09 276.50L402.27 274.08L402.48 271.67L402.71 269.25L402.97 266.83L403.25 264.42L403.56 262.00M402.60 286.50L402.63 284.46L402.68 282.42L402.74 280.38L402.82 278.33L402.92 276.29L403.04 274.25L403.17 272.21L403.32 270.17L403.49 268.12L403.68 266.08L403.88 264.04L404.11 262.00" stroke="#de5700" stroke-width="1.25" fill="none" stroke-linecap="butt"/>
</g>
<rect x="379.4" y="268.5" width="70.8" height="70.8" fill="none" stroke="#1c1cff" stroke-width="1.1"/>
<path d="M405.3 404H429" stroke="#de5700" stroke-width="1.2"/>
<circle cx="429" cy="404" r="3.4" fill="#de5700"/>
<path d="M405.3 420.3H429.3" stroke="#1d4f8a" stroke-width="0.9"/>
<circle cx="429.3" cy="420.3" r="3.7" fill="none" stroke="#1d4f8a" stroke-width="1"/>
<path d="M405.3 436.4H429" stroke="#cbcbcb" stroke-width="2.2"/>
<text x="441.5" y="407.8" font-size="12.5" text-anchor="start" textLength="44.5" lengthAdjust="spacingAndGlyphs">HP+ISA</text>
<text x="441.5" y="424" font-size="12.5" text-anchor="start" textLength="44.5" lengthAdjust="spacingAndGlyphs">HP+IGS</text>
<text x="436.4" y="440.2" font-size="12.5" text-anchor="start" textLength="55.2" lengthAdjust="spacingAndGlyphs">monotonic</text>
<path d="M536.4 270V449.55" stroke="#555" stroke-width="1.1" fill="none"/>
<path d="M536.4 449H707" stroke="#555" stroke-width="1.1" fill="none"/>
<path d="M536.6 448.7v-2" stroke="#444444" stroke-width="0.9"/>
<text x="536.6" y="461.0" font-size="10.3" text-anchor="middle" textLength="4.83" lengthAdjust="spacingAndGlyphs">0</text>
<path d="M608.4 448.7v-2" stroke="#444444" stroke-width="0.9"/>
<text x="608.4" y="461.0" font-size="10.3" text-anchor="middle" textLength="4.83" lengthAdjust="spacingAndGlyphs">5</text>
<path d="M691.5 448.7v-2" stroke="#444444" stroke-width="0.9"/>
<text x="691.5" y="461.0" font-size="10.3" text-anchor="middle" textLength="9.66" lengthAdjust="spacingAndGlyphs">70</text>
<path d="M536.6999999999999 449h2" stroke="#444444" stroke-width="0.9"/>
<text x="533.3" y="451.8" font-size="10.3" text-anchor="end" textLength="4.83" lengthAdjust="spacingAndGlyphs">0</text>
<path d="M536.6999999999999 396.5h2" stroke="#444444" stroke-width="0.9"/>
<text x="533.3" y="399.3" font-size="10.3" text-anchor="end" textLength="14.49" lengthAdjust="spacingAndGlyphs">250</text>
<path d="M536.6999999999999 344.1h2" stroke="#444444" stroke-width="0.9"/>
<text x="533.3" y="346.90000000000003" font-size="10.3" text-anchor="end" textLength="14.49" lengthAdjust="spacingAndGlyphs">500</text>
<path d="M536.6999999999999 291.7h2" stroke="#444444" stroke-width="0.9"/>
<text x="533.3" y="294.5" font-size="10.3" text-anchor="end" textLength="14.49" lengthAdjust="spacingAndGlyphs">750</text>
<path d="M608.4 272.5V449" stroke="#999" stroke-width="0.8" stroke-dasharray="0.9 2.2" fill="none"/>
<path d="M633.5 272.5V449" stroke="#999" stroke-width="0.8" stroke-dasharray="0.9 2.2" fill="none"/>
<text x="512.8" y="359" font-size="11" text-anchor="middle" transform="rotate(-90 512.8 359)" textLength="34.5" lengthAdjust="spacingAndGlyphs"><tspan font-style="italic">q</tspan> (kPa)</text>
<text x="668" y="472.6" font-size="13" text-anchor="middle"><tspan font-style="italic">N</tspan></text>
<text x="609" y="498.3" font-size="10" text-anchor="middle">(f)</text>
<path d="M536.9 448.8V399.6" stroke="#de5700" stroke-width="1" fill="none"/>
<path d="M536.6 448.8V399.4" stroke="#1d4f8a" stroke-width="1" fill="none"/>
<path d="M537.00 399.60 L537.60 399.62 L538.19 399.73 L538.78 399.89 L539.38 400.08 L539.98 400.29 L540.57 400.51 L541.16 400.73 L541.76 400.96 L542.36 401.19 L542.95 401.43 L543.54 401.66 L544.14 401.90 L544.74 401.61 L545.33 401.33 L545.92 401.04 L546.52 400.76 L547.12 400.48 L547.71 400.21 L548.30 399.94 L548.90 399.68 L549.50 399.44 L550.09 399.23 L550.68 399.07 L551.28 399.00 L551.88 399.02 L552.47 399.13 L553.06 399.29 L553.66 399.48 L554.25 399.69 L554.85 399.91 L555.45 400.13 L556.04 400.36 L556.63 400.59 L557.23 400.83 L557.83 401.06 L558.42 401.30 L559.01 401.01 L559.61 400.73 L560.21 400.44 L560.80 400.16 L561.39 399.88 L561.99 399.61 L562.59 399.34 L563.18 399.08 L563.77 398.84 L564.37 398.63 L564.97 398.47 L565.56 398.40 L566.15 398.42 L566.75 398.53 L567.35 398.69 L567.94 398.88 L568.53 399.09 L569.13 399.31 L569.73 399.53 L570.32 399.76 L570.91 399.99 L571.51 400.23 L572.11 400.46 L572.70 400.70 L573.29 400.41 L573.89 400.13 L574.49 399.84 L575.08 399.56 L575.67 399.28 L576.27 399.01 L576.87 398.74 L577.46 398.48 L578.05 398.24 L578.65 398.03 L579.25 397.87 L579.84 397.80 L580.43 397.82 L581.03 397.93 L581.62 398.09 L582.22 398.28 L582.81 398.49 L583.41 398.71 L584.00 398.93 L584.60 399.16 L585.19 399.39 L585.79 399.63 L586.38 399.86 L586.98 400.10 L587.58 399.81 L588.17 399.53 L588.76 399.24 L589.36 398.96 L589.95 398.68 L590.55 398.41 L591.14 398.14 L591.74 397.88 L592.34 397.64 L592.93 397.43 L593.52 397.27 L594.12 397.20 L594.72 397.22 L595.31 397.33 L595.90 397.49 L596.50 397.68 L597.10 397.89 L597.69 398.11 L598.28 398.33 L598.88 398.56 L599.48 398.79 L600.07 399.03 L600.66 399.26 L601.26 399.50 L601.86 399.21 L602.45 398.93 L603.04 398.64 L603.64 398.36 L604.24 398.08 L604.83 397.81 L605.42 397.54 L606.02 397.28 L606.62 397.04 L607.21 396.83 L607.80 396.67 L608.40 396.60" stroke="#de5700" stroke-width="1.1" fill="none"/>
<path d="M537.00 399.20 L537.60 399.19 L538.19 399.28 L538.78 399.43 L539.38 399.63 L539.98 399.84 L540.57 400.07 L541.16 400.30 L541.76 400.55 L542.36 400.79 L542.95 401.04 L543.54 401.29 L544.14 401.54 L544.74 401.15 L545.33 400.75 L545.92 400.36 L546.52 399.97 L547.12 399.59 L547.71 399.21 L548.30 398.84 L548.90 398.48 L549.50 398.14 L550.09 397.85 L550.68 397.61 L551.28 397.48 L551.88 397.47 L552.47 397.56 L553.06 397.71 L553.66 397.91 L554.25 398.12 L554.85 398.35 L555.45 398.58 L556.04 398.83 L556.63 399.07 L557.23 399.32 L557.83 399.57 L558.42 399.82 L559.01 399.43 L559.61 399.03 L560.21 398.64 L560.80 398.25 L561.39 397.87 L561.99 397.49 L562.59 397.12 L563.18 396.76 L563.77 396.42 L564.37 396.13 L564.97 395.89 L565.56 395.76 L566.15 395.75 L566.75 395.84 L567.35 395.99 L567.94 396.19 L568.53 396.40 L569.13 396.63 L569.73 396.86 L570.32 397.11 L570.91 397.35 L571.51 397.60 L572.11 397.85 L572.70 398.10 L573.29 397.71 L573.89 397.31 L574.49 396.92 L575.08 396.53 L575.67 396.15 L576.27 395.77 L576.87 395.40 L577.46 395.04 L578.05 394.70 L578.65 394.41 L579.25 394.17 L579.84 394.04 L580.43 394.03 L581.03 394.12 L581.62 394.27 L582.22 394.47 L582.81 394.68 L583.41 394.91 L584.00 395.14 L584.60 395.39 L585.19 395.63 L585.79 395.88 L586.38 396.13 L586.98 396.38 L587.58 395.99 L588.17 395.59 L588.76 395.20 L589.36 394.81 L589.95 394.43 L590.55 394.05 L591.14 393.68 L591.74 393.32 L592.34 392.98 L592.93 392.69 L593.52 392.45 L594.12 392.32 L594.72 392.31 L595.31 392.40 L595.90 392.55 L596.50 392.75 L597.10 392.96 L597.69 393.19 L598.28 393.42 L598.88 393.67 L599.48 393.91 L600.07 394.16 L600.66 394.41 L601.26 394.66 L601.86 394.27 L602.45 393.87 L603.04 393.48 L603.64 393.09 L604.24 392.71 L604.83 392.33 L605.42 391.96 L606.02 391.60 L606.62 391.26 L607.21 390.97 L607.80 390.73 L608.40 390.60" stroke="#1d4f8a" stroke-width="1.1" fill="none"/>
<path d="M633.60 291.00 L634.20 291.03 L634.81 291.20 L635.41 291.47 L636.02 291.78 L636.62 292.14 L637.23 292.50 L637.83 292.89 L638.43 293.27 L639.04 293.67 L639.64 294.07 L640.25 294.47 L640.85 294.88 L641.45 294.35 L642.06 293.83 L642.66 293.31 L643.27 292.79 L643.87 292.28 L644.48 291.78 L645.08 291.29 L645.68 290.82 L646.29 290.38 L646.89 289.99 L647.50 289.70 L648.10 289.55 L648.70 289.58 L649.31 289.75 L649.91 290.02 L650.52 290.33 L651.12 290.69 L651.73 291.05 L652.33 291.44 L652.93 291.82 L653.54 292.22 L654.14 292.62 L654.75 293.02 L655.35 293.43 L655.95 292.90 L656.56 292.38 L657.16 291.86 L657.77 291.34 L658.37 290.83 L658.98 290.33 L659.58 289.84 L660.18 289.37 L660.79 288.93 L661.39 288.54 L662.00 288.25 L662.60 288.10 L663.20 288.13 L663.81 288.30 L664.41 288.57 L665.02 288.88 L665.62 289.24 L666.23 289.60 L666.83 289.99 L667.43 290.37 L668.04 290.77 L668.64 291.17 L669.25 291.57 L669.85 291.98 L670.45 291.45 L671.06 290.93 L671.66 290.41 L672.27 289.89 L672.87 289.38 L673.48 288.88 L674.08 288.39 L674.68 287.92 L675.29 287.48 L675.89 287.09 L676.50 286.80 L677.10 286.65 L677.70 286.68 L678.31 286.85 L678.91 287.12 L679.52 287.43 L680.12 287.79 L680.73 288.15 L681.33 288.54 L681.93 288.92 L682.54 289.32 L683.14 289.72 L683.75 290.12 L684.35 290.53 L684.95 290.00 L685.56 289.48 L686.16 288.96 L686.77 288.44 L687.37 287.93 L687.98 287.43 L688.58 286.94 L689.18 286.47 L689.79 286.03 L690.39 285.64 L691.00 285.35 L691.60 285.20" stroke="#1d4f8a" stroke-width="1.1" fill="none"/>
<path d="M633.60 370.40 L634.20 370.46 L634.81 370.64 L635.41 370.90 L636.02 371.20 L636.62 371.52 L637.23 371.87 L637.83 372.22 L638.43 372.58 L639.04 372.94 L639.64 373.31 L640.25 373.68 L640.85 374.05 L641.45 373.65 L642.06 373.26 L642.66 372.87 L643.27 372.48 L643.87 372.09 L644.48 371.72 L645.08 371.35 L645.68 371.00 L646.29 370.67 L646.89 370.39 L647.50 370.18 L648.10 370.10 L648.70 370.16 L649.31 370.34 L649.91 370.60 L650.52 370.90 L651.12 371.22 L651.73 371.57 L652.33 371.92 L652.93 372.28 L653.54 372.64 L654.14 373.01 L654.75 373.38 L655.35 373.75 L655.95 373.35 L656.56 372.96 L657.16 372.57 L657.77 372.18 L658.37 371.79 L658.98 371.42 L659.58 371.05 L660.18 370.70 L660.79 370.37 L661.39 370.09 L662.00 369.88 L662.60 369.80 L663.20 369.86 L663.81 370.04 L664.41 370.30 L665.02 370.60 L665.62 370.92 L666.23 371.27 L666.83 371.62 L667.43 371.98 L668.04 372.34 L668.64 372.71 L669.25 373.08 L669.85 373.45 L670.45 373.05 L671.06 372.66 L671.66 372.27 L672.27 371.88 L672.87 371.49 L673.48 371.12 L674.08 370.75 L674.68 370.40 L675.29 370.07 L675.89 369.79 L676.50 369.58 L677.10 369.50 L677.70 369.56 L678.31 369.74 L678.91 370.00 L679.52 370.30 L680.12 370.62 L680.73 370.97 L681.33 371.32 L681.93 371.68 L682.54 372.04 L683.14 372.41 L683.75 372.78 L684.35 373.15 L684.95 372.75 L685.56 372.36 L686.16 371.97 L686.77 371.58 L687.37 371.19 L687.98 370.82 L688.58 370.45 L689.18 370.10 L689.79 369.77 L690.39 369.49 L691.00 369.28 L691.60 369.20" stroke="#de5700" stroke-width="1.1" fill="none"/>
<circle cx="655.4" cy="293.6" r="4.1" fill="none" stroke="#1d4f8a" stroke-width="1.05"/>
<circle cx="655.4" cy="373.8" r="2.5" fill="#de5700"/>
<text x="564" y="387.8" font-size="12" text-anchor="start" transform="rotate(-90 564 387.8)" textLength="107.5" lengthAdjust="spacingAndGlyphs">ISA: <tspan font-style="italic">χ</tspan><tspan font-size="8" dy="2">0</tspan><tspan dy="-2"> = </tspan><tspan font-style="italic">χ</tspan><tspan font-size="8" dy="2">max</tspan><tspan dy="-2"> = 20</tspan></text>
<text x="586.4" y="387.8" font-size="12" text-anchor="start" transform="rotate(-90 586.4 387.8)" textLength="101.3" lengthAdjust="spacingAndGlyphs">IGS: <tspan font-style="italic">χ</tspan><tspan font-size="8" dy="2">0</tspan><tspan dy="-2"> = </tspan><tspan font-style="italic">χ</tspan><tspan font-size="8" dy="2">max</tspan><tspan dy="-2"> = 9</tspan></text>
</svg>
</body></html>
